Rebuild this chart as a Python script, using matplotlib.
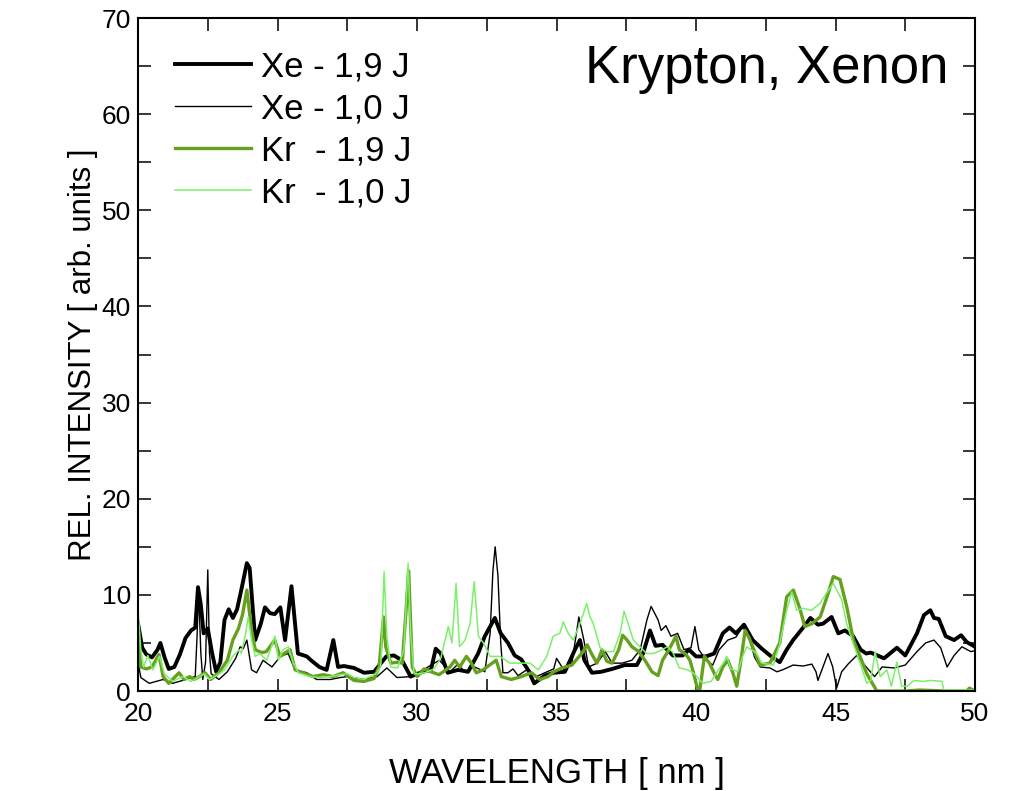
import matplotlib
matplotlib.use('Agg')
import matplotlib.pyplot as plt
from matplotlib.ticker import MultipleLocator

plt.rcParams['font.family'] = ['Liberation Sans', 'DejaVu Sans']

# Xe - 1,9 J (thick black)
xe19_x = [20.0, 20.15, 20.3, 20.5, 20.7, 20.8, 20.95, 21.1, 21.3, 21.5, 21.7, 21.9, 22.05, 22.15,
          22.25, 22.35, 22.5, 22.65, 22.8, 22.95, 23.1, 23.25, 23.4, 23.55, 23.7, 23.9, 24.0, 24.2,
          24.4, 24.55, 24.73, 24.9, 25.1, 25.27, 25.5, 25.73, 26.05, 26.2, 26.5, 26.76, 27.0, 27.17,
          27.38, 27.74, 28.1, 28.46, 28.9, 29.17, 29.46, 29.77, 30.2, 30.5, 30.67, 30.85, 31.1, 31.47,
          31.83, 32.19, 32.43, 32.79, 33.0, 33.26, 33.5, 33.73, 33.98, 34.2, 34.58, 34.9, 35.3, 35.66,
          35.84, 36.0, 36.27, 36.6, 37.0, 37.45, 37.88, 38.1, 38.35, 38.55, 38.8, 39.17, 39.52, 39.75,
          40.0, 40.36, 40.65, 40.96, 41.2, 41.43, 41.72, 42.03, 42.36, 42.65, 43.0, 43.25, 43.48, 43.84,
          44.1, 44.37, 44.55, 44.86, 45.1, 45.34, 45.63, 45.9, 46.1, 46.26, 46.74, 47.2, 47.5, 47.92,
          48.17, 48.4, 48.53, 48.7, 48.95, 49.25, 49.5, 49.7, 50.0]
xe19_y = [7.0, 4.5, 3.8, 3.5, 4.3, 5.0, 3.5, 2.3, 2.5, 3.8, 5.5, 6.3, 6.6, 10.8,
          9.0, 6.0, 6.5, 4.0, 2.0, 3.0, 7.4, 8.5, 7.6, 8.5, 10.5, 13.3, 12.8, 5.3,
          7.0, 8.7, 8.1, 8.0, 8.7, 5.3, 10.9, 3.9, 3.6, 3.2, 2.5, 2.2, 5.3, 2.5,
          2.6, 2.4, 1.9, 2.0, 3.6, 3.7, 3.2, 1.5, 2.0, 2.2, 4.4, 3.9, 1.9, 2.2,
          2.0, 3.9, 5.7, 7.6, 6.0, 5.0, 3.7, 3.3, 2.2, 0.8, 1.6, 1.9, 2.0, 4.3,
          5.3, 3.2, 1.9, 2.0, 2.3, 2.7, 2.7, 3.9, 6.3, 4.7, 4.8, 3.7, 3.7, 4.3,
          3.6, 3.6, 3.9, 6.0, 6.6, 6.0, 6.9, 5.3, 4.4, 3.7, 3.0, 4.3, 5.3, 6.6,
          7.6, 6.9, 7.0, 7.7, 6.0, 6.3, 5.7, 4.3, 3.9, 4.0, 3.4, 4.5, 3.7, 6.0,
          7.9, 8.4, 7.6, 7.5, 5.7, 5.3, 5.8, 5.1, 4.6]

# Xe - 1,0 J (thin black)
xe10_x = [20.0, 20.1, 20.4, 20.9, 21.24, 21.72, 22.05, 22.12, 22.17, 22.25, 22.32, 22.42, 22.5,
          22.56, 22.62, 22.9, 23.2, 23.5, 23.66, 23.77, 23.9, 24.07, 24.25, 24.48, 24.8, 25.1,
          25.38, 25.63, 26.05, 26.4, 26.9, 27.24, 27.5, 28.1, 28.57, 28.92, 29.28, 29.77, 30.13,
          30.5, 30.8, 31.18, 31.47, 31.7, 32.07, 32.43, 32.62, 32.72, 32.8, 32.9, 33.0, 33.08,
          33.26, 33.44, 33.62, 33.98, 34.28, 34.58, 34.9, 35.0, 35.26, 35.55, 35.8, 35.98, 36.15,
          36.45, 36.75, 36.99, 37.35, 37.7, 38.0, 38.24, 38.39, 38.64, 38.75, 38.92, 39.1, 39.34,
          39.57, 39.82, 39.96, 40.1, 40.36, 40.6, 40.83, 41.14, 41.43, 41.67, 41.91, 42.1, 42.3,
          42.65, 42.9, 43.1, 43.48, 43.84, 44.15, 44.3, 44.37, 44.55, 44.73, 44.9, 45.04, 45.22,
          45.45, 45.76, 46.1, 46.4, 46.67, 47.1, 47.5, 47.92, 48.23, 48.53, 48.77, 49.0, 49.25,
          49.53, 49.85, 50.0]
xe10_y = [3.0, 1.4, 0.8, 1.2, 0.8, 1.2, 1.5, 6.0, 10.5, 4.0, 1.2, 3.0, 12.6,
          4.0, 1.8, 1.2, 2.0, 3.4, 4.6, 4.4, 5.3, 2.2, 1.9, 3.2, 2.5, 3.6,
          3.9, 2.2, 1.9, 1.2, 1.2, 1.4, 1.5, 1.2, 1.5, 2.4, 1.4, 1.5, 2.0,
          2.7, 3.2, 2.0, 2.8, 2.0, 2.5, 2.0, 6.0, 12.5, 15.0, 12.0, 5.0, 1.9,
          1.9, 2.3, 1.6, 2.3, 1.5, 1.9, 2.3, 3.4, 2.2, 2.9, 7.7, 5.3, 2.5,
          2.9, 4.1, 2.9, 2.9, 3.2, 4.3, 7.4, 8.8, 7.4, 6.3, 6.8, 5.7, 6.0,
          4.3, 4.5, 6.7, 4.3, 3.2, 2.7, 4.3, 5.3, 5.6, 6.7, 5.5, 3.5, 2.5,
          2.4, 2.0, 2.2, 2.7, 2.6, 2.8, 2.0, 1.1, 2.5, 3.9, 2.5, 0.3, 2.0,
          2.8, 3.7, 2.5, 1.5, 2.5, 2.4, 2.7, 4.1, 5.0, 5.3, 4.5, 2.5, 3.7,
          4.6, 4.1, 4.2]

# Kr - 1,9 J (dark green)
kr19_x = [20.0, 20.1, 20.3, 20.5, 20.75, 20.9, 21.1, 21.47, 21.65, 21.85, 22.0, 22.2, 22.4, 22.6,
          22.9, 23.2, 23.4, 23.6, 23.75, 23.9, 24.07, 24.2, 24.43, 24.6, 24.9, 25.09, 25.45, 25.63,
          25.9, 26.27, 26.63, 26.99, 27.35, 27.74, 28.1, 28.46, 28.64, 28.8, 28.88, 29.06, 29.3,
          29.47, 29.6, 29.7, 29.83, 30.01, 30.25, 30.5, 30.79, 31.18, 31.35, 31.53, 31.77, 31.95,
          32.12, 32.37, 32.6, 32.84, 33.02, 33.38, 33.74, 34.1, 34.4, 34.7, 34.9, 35.2, 35.55, 35.9,
          36.1, 36.27, 36.45, 36.63, 36.8, 36.99, 37.23, 37.37, 37.53, 37.7, 37.95, 38.19, 38.42,
          38.64, 38.8, 39.03, 39.28, 39.4, 39.64, 39.78, 39.9, 40.07, 40.14, 40.3, 40.48, 40.66,
          40.78, 40.96, 41.14, 41.32, 41.46, 41.61, 41.76, 41.91, 42.15, 42.29, 42.65, 43.0, 43.25,
          43.49, 43.73, 43.9, 44.15, 44.45, 44.74, 44.92, 45.16, 45.4, 45.64, 45.88, 46.12, 46.48,
          47.5, 48.0, 49.0, 49.7, 49.8, 50.0]
kr19_y = [5.5, 2.5, 2.3, 2.5, 3.8, 1.5, 0.8, 1.9, 1.2, 1.5, 1.2, 1.5, 1.9, 1.2,
          1.9, 3.2, 5.3, 6.5, 8.0, 10.5, 6.3, 4.3, 4.0, 4.1, 5.3, 3.6, 4.3, 2.2,
          1.9, 1.5, 1.7, 1.5, 1.9, 1.1, 1.0, 1.3, 2.5, 7.7, 4.6, 2.9, 3.0,
          2.9, 8.1, 12.5, 2.5, 1.5, 2.3, 2.0, 1.7, 2.5, 3.2, 2.5, 3.6, 2.9,
          1.9, 2.2, 2.7, 3.2, 1.5, 1.2, 1.5, 1.9, 1.2, 1.5, 2.0, 2.4, 2.7, 3.9,
          4.8, 3.8, 2.9, 4.3, 3.1, 2.9, 4.3, 5.8, 5.3, 4.6, 4.1, 3.1, 2.0,
          1.6, 3.2, 4.3, 5.7, 4.3, 3.8, 3.2, 2.0, 0.0, 0.2, 3.6, 2.9, 1.8,
          1.2, 2.5, 3.2, 1.9, 0.5, 3.2, 6.3, 5.5, 3.7, 2.7, 2.9, 5.0, 9.8,
          10.5, 8.5, 6.7, 7.0, 7.7, 10.2, 11.9, 11.6, 8.8, 5.3, 3.6, 1.8, 0.0,
          0.0, 0.1, 0.0, 0.0, 0.3, 0.0]

# Kr - 1,0 J (light green)
kr10_x = [20.0, 20.1, 20.2, 20.35, 20.53, 20.77, 20.94, 21.24, 21.6, 21.9, 22.14, 22.38, 22.56,
          22.86, 23.1, 23.39, 23.63, 23.7, 23.84, 23.95, 24.07, 24.2, 24.37, 24.61, 24.91, 25.03,
          25.2, 25.39, 25.57, 25.75, 26.16, 26.52, 26.88, 27.24, 27.5, 27.74, 28.1, 28.52, 28.7,
          28.82, 28.92, 29.06, 29.3, 29.53, 29.68, 29.77, 29.89, 30.13, 30.37, 30.6, 30.85, 31.12,
          31.25, 31.4, 31.52, 31.72, 31.9, 32.05, 32.2, 32.38, 32.62, 32.97, 33.33, 33.69, 34.05,
          34.35, 34.65, 34.88, 35.12, 35.24, 35.42, 35.6, 35.84, 36.08, 36.2, 36.32, 36.56, 36.8,
          37.04, 37.28, 37.42, 37.57, 37.75, 37.99, 38.23, 38.47, 38.71, 38.98, 39.17, 39.4, 39.7,
          39.94, 40.24, 40.54, 40.78, 41.0, 41.1, 41.25, 41.5, 41.67, 41.82, 41.91, 42.15, 42.36,
          42.77, 43.0, 43.25, 43.43, 43.61, 43.85, 44.14, 44.44, 44.68, 44.92, 45.22, 45.4, 45.64,
          45.88, 46.12, 46.26, 46.42, 46.6, 46.84, 47.0, 47.2, 47.37, 47.57, 47.81, 48.15, 48.4,
          48.82, 48.88, 50.0]
kr10_y = [8.5, 4.3, 2.5, 3.7, 2.2, 3.6, 1.8, 1.0, 1.5, 1.0, 1.4, 1.8, 1.2,
          1.7, 2.2, 3.6, 4.3, 3.9, 5.7, 7.7, 5.3, 3.6, 3.9, 3.2, 5.7, 3.2,
          4.3, 4.6, 2.9, 1.9, 1.5, 1.4, 1.5, 1.7, 1.8, 1.4, 1.2, 1.8, 2.5,
          12.4, 5.6, 2.5, 2.4, 4.3, 13.3, 6.0, 1.8, 1.8, 2.0, 2.3, 3.4, 6.7,
          5.0, 11.2, 4.6, 5.3, 7.0, 11.4, 5.7, 5.0, 3.6, 3.6, 2.9, 2.9, 2.9,
          2.2, 3.6, 5.7, 6.0, 7.2, 6.0, 5.3, 7.0, 9.1, 7.7, 7.0, 4.5, 4.1,
          4.1, 6.0, 8.3, 7.0, 5.3, 4.6, 3.9, 3.9, 4.2, 4.6, 4.0, 2.4, 2.2,
          1.8, 0.8, 1.0, 2.1, 3.0, 3.6, 2.3, 2.0, 3.6, 4.6, 4.4, 4.0, 2.9,
          2.7, 4.9, 8.4, 10.3, 8.4, 8.6, 8.4, 9.1, 10.2, 11.2, 9.5, 7.0, 4.9,
          2.9, 0.8, 1.1, 4.1, 1.5, 2.2, 0.5, 3.0, 0.5, 0.5, 1.1, 1.0, 1.1,
          1.0, 0.1, 0.1]

fig = plt.figure(figsize=(10.15, 7.91), dpi=100)
ax = fig.add_axes([0.136, 0.1264, 0.8246, 0.8508])

ax.plot(xe19_x, xe19_y, color='black', lw=2.8, label='Xe - 1,9 J')
ax.plot(xe10_x, xe10_y, color='black', lw=1.0, label='Xe - 1,0 J')
ax.plot(kr19_x, kr19_y, color='#66A01E', lw=2.4, label='Kr  - 1,9 J')
ax.plot(kr10_x, kr10_y, color='#7CF06A', lw=1.1, label='Kr  - 1,0 J')

ax.set_xlim(20, 50)
ax.set_ylim(0, 70)
ax.xaxis.set_major_locator(MultipleLocator(5))
ax.xaxis.set_minor_locator(MultipleLocator(2.5))
ax.yaxis.set_major_locator(MultipleLocator(10))
ax.yaxis.set_minor_locator(MultipleLocator(5))
ax.tick_params(which='both', direction='in', top=True, right=True,
               length=9, width=1.1, labelsize=19)
ax.tick_params(axis='x', pad=8)
ax.tick_params(axis='y', pad=5)
for s in ax.spines.values():
    s.set_linewidth(1.5)

ax.set_xlabel('WAVELENGTH [ nm ]', fontsize=25, labelpad=22)
ax.set_ylabel('REL. INTENSITY [ arb. units ]', fontsize=22.5, labelpad=3)

ax.text(0.968, 0.925, 'Krypton, Xenon', transform=ax.transAxes,
        ha='right', va='center', fontsize=38)

ax.legend(loc='upper left', bbox_to_anchor=(0.027, 0.973), frameon=False,
          fontsize=25, handlelength=2.2, handletextpad=0.3, labelspacing=0.26,
          borderaxespad=0)

fig.savefig('out.png', dpi=100)
